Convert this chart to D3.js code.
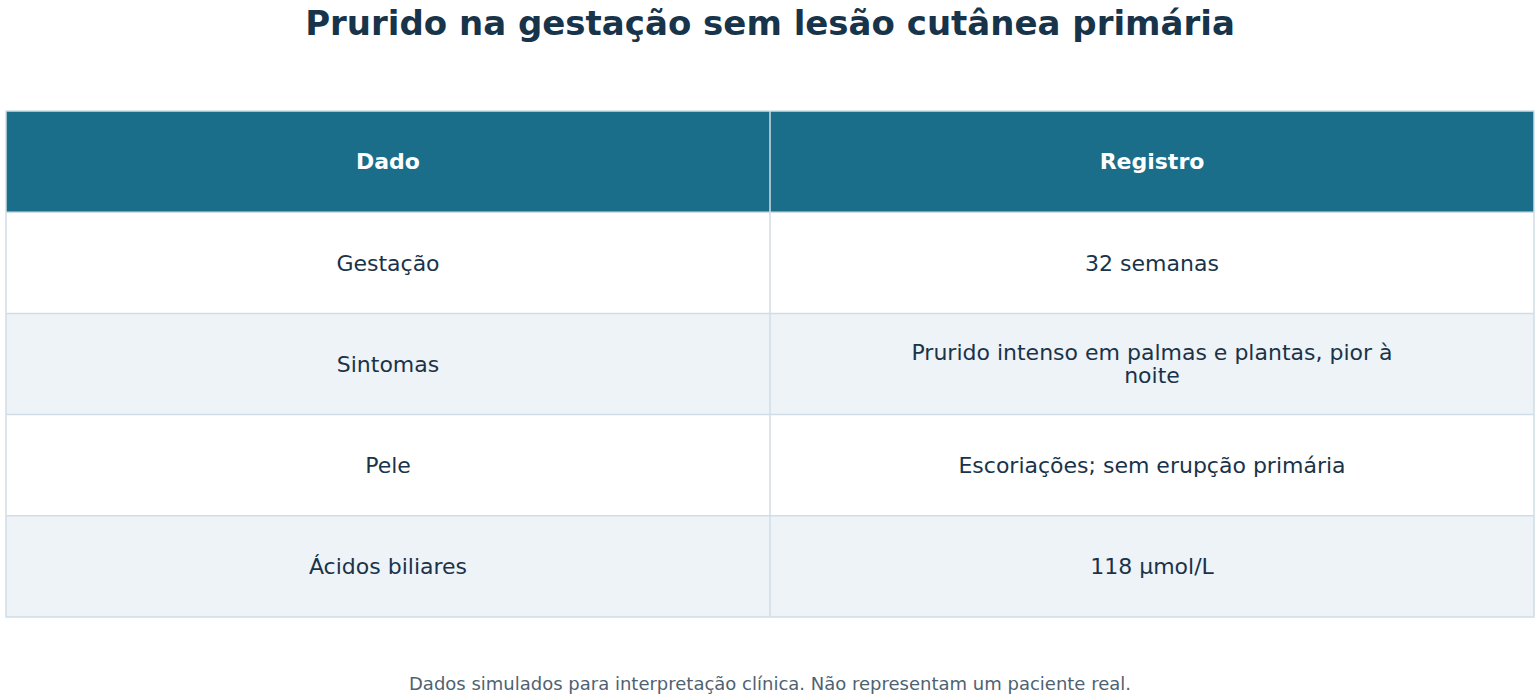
<!DOCTYPE html>
<html><head><meta charset="utf-8">
<script src="https://cdn.jsdelivr.net/npm/d3@7"></script>
<style>body{margin:0;background:#fff}</style></head>
<body><svg id="c" width="1540" height="700"></svg>
<script>
const title = "Prurido na gestação sem lesão cutânea primária";
const columns = ["Dado", "Registro"];
const dados = ["Gestação", "Sintomas", "Pele", "Ácidos biliares"];
const registros = ["32 semanas", "Prurido intenso em palmas e plantas, pior à noite", "Escoriações; sem erupção primária", "118 μmol/L"];
const footnote = "Dados simulados para interpretação clínica. Não representam um paciente real.";

const svg = d3.select("#c");
const font = "DejaVu Sans, sans-serif";
const x = d3.scaleBand().domain(columns).range([6, 1534]);
const rowsAll = ["header", ...dados];
const y = d3.scaleBand().domain(rowsAll).range([111, 617]);

svg.append("text").attr("x", 770).attr("y", 35).attr("text-anchor", "middle")
  .attr("font-family", font).attr("font-weight", "bold").attr("font-size", 34)
  .attr("fill", "#17344a").text(title);

// header
svg.append("rect").attr("x", 6).attr("y", y("header")).attr("width", 1528).attr("height", y.bandwidth()).attr("fill", "#1a6e8a");
columns.forEach(c => svg.append("text").attr("x", x(c) + x.bandwidth()/2).attr("y", y("header") + y.bandwidth()/2)
  .attr("dy", "0.35em").attr("text-anchor", "middle").attr("font-family", font).attr("font-weight", "bold")
  .attr("font-size", 22).attr("fill", "#fff").text(c));

dados.forEach((d, i) => {
  svg.append("rect").attr("x", 6).attr("y", y(d)).attr("width", 1528).attr("height", y.bandwidth())
    .attr("fill", i % 2 ? "#eef3f8" : "#ffffff");
  const vals = [d, registros[i]];
  columns.forEach((c, j) => {
    const t = svg.append("text").attr("text-anchor", "middle").attr("font-family", font)
      .attr("font-size", 22).attr("fill", "#1a3349");
    const cx = x(c) + x.bandwidth()/2;
    const words = vals[j].split(" ");
    const lines = []; let cur = [];
    const probe = t.append("tspan");
    words.forEach(w => {
      probe.text([...cur, w].join(" "));
      if (probe.node().getComputedTextLength() > 540 && cur.length) { lines.push(cur.join(" ")); cur = [w]; }
      else cur.push(w);
    });
    lines.push(cur.join(" "));
    probe.remove();
    const lh = 23, cy = y(d) + y.bandwidth()/2 - (lines.length - 1) * lh / 2;
    lines.forEach((l, k) => t.append("tspan").attr("x", cx).attr("y", cy + k * lh).attr("dy", "0.35em").text(l));
  });
});

// grid lines
const g = svg.append("g").attr("stroke", "#d0dde6").attr("stroke-width", 1.5).attr("fill", "none");
g.append("rect").attr("x", 6).attr("y", 111).attr("width", 1528).attr("height", 506);
rowsAll.slice(1).forEach(r => g.append("line").attr("x1", 6).attr("x2", 1534).attr("y1", y(r)).attr("y2", y(r)));
g.append("line").attr("x1", x("Registro")).attr("x2", x("Registro")).attr("y1", 111).attr("y2", 617);

svg.append("text").attr("x", 770).attr("y", 690).attr("text-anchor", "middle").attr("font-family", font)
  .attr("font-size", 18).attr("fill", "#4f6272").text(footnote);
</script></body></html>
